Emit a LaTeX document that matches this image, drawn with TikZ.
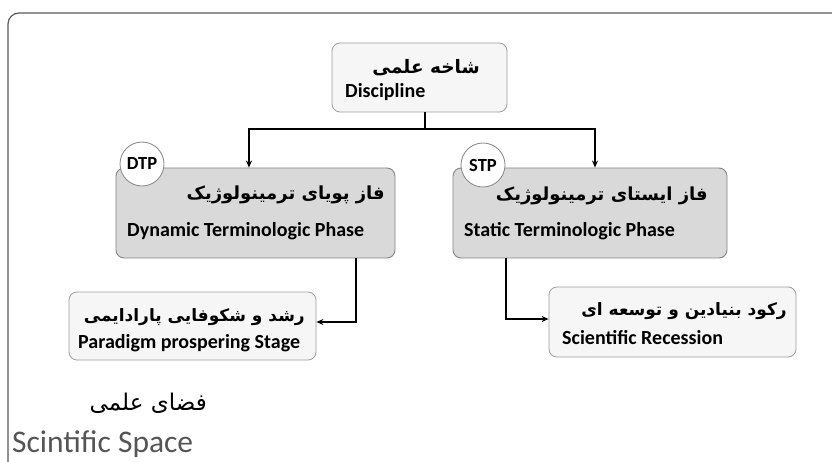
\documentclass[tikz,border=0pt]{standalone}
\usepackage{fontspec}
\setmainfont{Carlito}
\newfontfamily\fa[Script=Arabic]{DejaVu Sans}
\TeXXeTstate=1
\usetikzlibrary{arrows.meta}
\definecolor{frameC}{HTML}{5A5A5A}
\definecolor{lightF}{HTML}{F6F6F6}
\definecolor{lightD}{HTML}{9E9E9E}
\definecolor{grayF}{HTML}{D9D9D9}
\definecolor{grayD}{HTML}{858585}
\definecolor{spaceC}{HTML}{555555}
\tikzset{
  lightbox/.style={draw=lightD, fill=lightF, line width=0.8pt, rounded corners=8pt, inner sep=0pt},
  graybox/.style={draw=grayD, fill=grayF, line width=0.9pt, rounded corners=8pt, inner sep=0pt},
  tagcircle/.style={circle, draw=grayD, fill=white, line width=0.8pt, minimum size=44pt, inner sep=0pt, font=\fontsize{18.5}{21}\selectfont\bfseries},
  fatext/.style={anchor=base east, inner sep=0pt, font=\fa\bfseries\fontsize{18}{22}\selectfont},
  entext/.style={anchor=base west, inner sep=0pt, font=\bfseries\fontsize{20}{23}\selectfont},
  link/.style={draw=black, line width=1.2pt},
  arr/.style={link, -{Stealth[length=7pt,width=6pt]}},
}
\begin{document}
\begin{tikzpicture}[x=1pt,y=-1pt]
\useasboundingbox (0,0) rectangle (832,462);
\fill[white] (0,0) rectangle (832,462);
% outer frame
\draw[frameC, line width=1.2pt, rounded corners=11pt] (8,462) -- (8,13) -- (832,13);

% boxes
\node[lightbox, minimum width=175pt, minimum height=69pt] (disc) at (419.5,77.5) {};
\node[graybox, minimum width=279pt, minimum height=90pt] (dtp) at (255.5,213) {};
\node[graybox, minimum width=274pt, minimum height=90pt] (stp) at (590,213) {};
\node[lightbox, minimum width=247pt, minimum height=68pt] (para) at (192.5,326) {};
\node[lightbox, minimum width=247pt, minimum height=70pt] (rec) at (672.5,322) {};

% circles
\node[tagcircle] (dtpc) at (142,164) {DTP};
\node[tagcircle] (stpc) at (483,165) {STP};

% texts
\node[fatext, font=\fa\bfseries\fontsize{18.5}{22}\selectfont] (discfa) at (480,74) {\beginR شاخه علمی\endR};
\node[entext] (discen) at (345,98) {Discipline};
\node[fatext] (dtpfa) at (385,200) {\beginR فاز پویای ترمینولوژیک\endR};
\node[entext] (dtpen) at (127,237) {Dynamic Terminologic Phase};
\node[fatext] (stpfa) at (708,201) {\beginR فاز ایستای ترمینولوژیک\endR};
\node[entext] (stpen) at (464,237) {Static Terminologic Phase};
\node[fatext, font=\fa\bfseries\fontsize{17}{21}\selectfont] (parafa) at (305,321) {\beginR رشد و شکوفایی پارادایمی\endR};
\node[entext] (paraen) at (78,348) {Paradigm prospering Stage};
\node[fatext, font=\fa\bfseries\fontsize{17}{21}\selectfont] (recfa) at (787,315) {\beginR رکود بنیادین و توسعه ای\endR};
\node[entext] (recen) at (562,344) {Scientific Recession};
\node[anchor=base east, inner sep=0pt, font=\fa\fontsize{23}{27}\selectfont] (spacefa) at (207,410) {\beginR فضای علمی\endR};
\node[anchor=base west, inner sep=0pt, text=spaceC, font=\fontsize{31.5}{36}\selectfont] (spaceen) at (12,452) {Scintific Space};

% connectors
\coordinate (j) at (425,129);
\draw[link] (disc.south -| j) -- (j);
\draw[arr] (j) -| ([xshift=-6.5pt]dtp.north);
\draw[arr] (j) -| ([xshift=5pt]stp.north);
\draw[arr] ([xshift=100.5pt]dtp.south) |- ([yshift=4pt]para.east);
\draw[arr] ([xshift=-84pt]stp.south) |- ([yshift=3pt]rec.west);
\end{tikzpicture}
\end{document}
